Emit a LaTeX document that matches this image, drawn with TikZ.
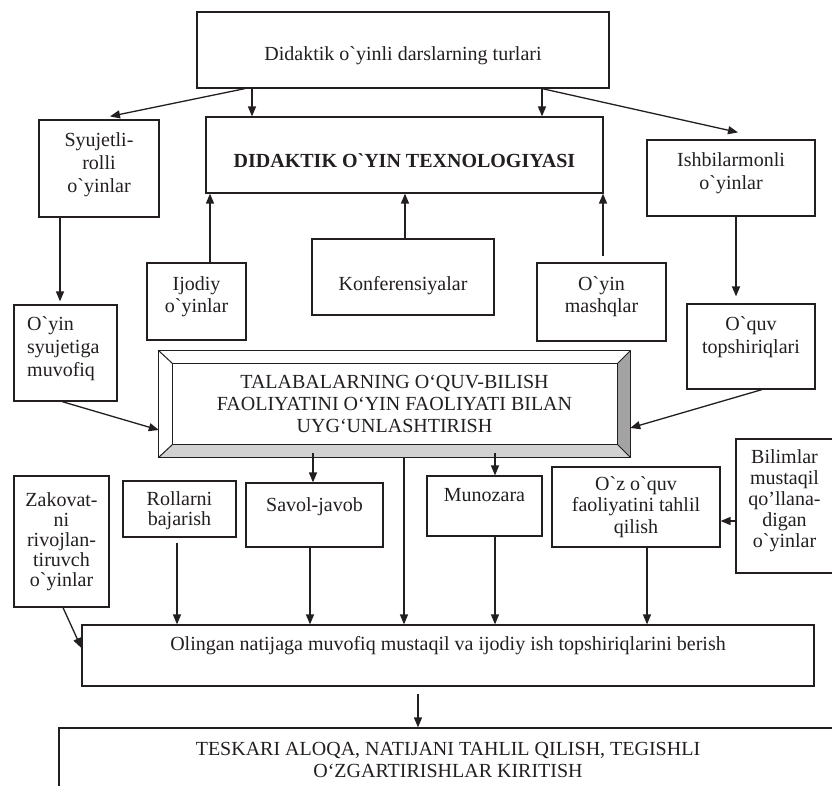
\documentclass[tikz,border=0pt]{standalone}
\usepackage{fontspec}
\setmainfont{Liberation Serif}[Ligatures=TeXOff]
\usetikzlibrary{arrows.meta,calc}
\definecolor{ink}{HTML}{231F20}
\definecolor{bevdark}{HTML}{A3A3A3}
\definecolor{bevlight}{HTML}{D2D2D2}
\begin{document}
\begin{tikzpicture}[x=1pt,y=-1pt,
  box/.style={draw=ink, line width=1.2pt, inner sep=0pt, fill=white},
  txt/.style={inner sep=0pt, anchor=north, align=center, text=ink, font=\fontsize{20}{23}\selectfont},
  arr/.style={draw=ink, line width=1.3pt, -{Triangle[length=10pt,width=8pt]}},
]
\newcommand\fst{\rule{0pt}{15pt}}
\useasboundingbox (0,0) rectangle (832,786);
\clip (0,0) rectangle (832,786);
\fill[white] (0,0) rectangle (832,786);

% boxes
\node[box, minimum width=412pt, minimum height=76pt] (top) at (403,50) {};
\node[txt] (top-t) at (403,45) {\fst Didaktik o`yinli darslarning turlari};

\node[box, minimum width=120pt, minimum height=97pt] (syu) at (99,168.5) {};
\node[txt] (syu-t) at (99,131) {\fst Syujetli-\\rolli\\o`yinlar};

\node[box, minimum width=397pt, minimum height=76pt] (did) at (404.5,155) {};
\node[txt] (did-t) at (404.5,152) {\fst\textbf{DIDAKTIK O`YIN TEXNOLOGIYASI}};

\node[box, minimum width=168pt, minimum height=76pt] (ish) at (731,178) {};
\node[txt] (ish-t) at (731,151) {\fst Ishbilarmonli\\o`yinlar};

\node[box, minimum width=99pt, minimum height=77pt] (ijo) at (196.5,301.5) {};
\node[txt, font=\fontsize{20}{22}\selectfont] (ijo-t) at (196.5,275) {\fst Ijodiy\\o`yinlar};

\node[box, minimum width=182pt, minimum height=76pt] (kon) at (403,277) {};
\node[txt] (kon-t) at (403,275) {\fst Konferensiyalar};

\node[box, minimum width=129pt, minimum height=78pt] (mash) at (601.5,302) {};
\node[txt, font=\fontsize{20}{22}\selectfont] (mash-t) at (601.5,275) {\fst O`yin\\mashqlar};

\node[box, minimum width=128pt, minimum height=85pt] (oq) at (751,346.5) {};
\node[txt] (oq-t) at (751,315) {\fst O`quv\\topshiriqlari};

\node[box, minimum width=103pt, minimum height=96pt] (syj) at (65.5,353) {};
\node[txt, anchor=north west, align=left] (syj-t) at (27,315) {\fst O`yin\\syujetiga\\muvofiq};

% bevel box
\node[inner sep=0pt, minimum width=471pt, minimum height=106pt] (bev) at (394.5,404) {};
\coordinate (bi1) at ($(bev.north west)+(14,13)$);
\coordinate (bi2) at ($(bev.north east)+(-13,13)$);
\coordinate (bi3) at ($(bev.south east)+(-13,-13)$);
\coordinate (bi4) at ($(bev.south west)+(14,-13)$);
\fill[white] (bev.north west) rectangle (bev.south east);
\fill[bevdark] (bev.north east) -- (bev.south east) -- (bi3) -- (bi2) -- cycle;
\fill[bevlight] (bev.south west) -- (bev.south east) -- (bi3) -- (bi4) -- cycle;
\draw[ink, line width=1.2pt] (bev.north west) rectangle (bev.south east);
\draw[ink, line width=1pt] (bi1) rectangle (bi3);
\draw[ink, line width=1pt] (bev.north west) -- (bi1) (bev.north east) -- (bi2) (bev.south east) -- (bi3) (bev.south west) -- (bi4);
\node[txt, font=\fontsize{20}{22}\selectfont] (bev-t) at (394.5,373) {\fst TALABALARNING O‘QUV-BILISH\\FAOLIYATINI O‘YIN FAOLIYATI BILAN\\UYG‘UNLASHTIRISH};

\node[box, minimum width=95pt, minimum height=131pt] (zak) at (61.5,541.5) {};
\node[txt, font=\fontsize{20}{20}\selectfont] (zak-t) at (61.5,491) {\fst Zakovat-\\ni\\rivojlan-\\tiruvch\\o`yinlar};

\node[box, minimum width=113pt, minimum height=56pt] (rol) at (179.5,509) {};
\node[txt, font=\fontsize{20}{20}\selectfont] (rol-t) at (179.5,490) {\fst Rollarni\\bajarish};

\node[box, minimum width=137pt, minimum height=64pt] (sav) at (314.5,515) {};
\node[txt] (sav-t) at (314.5,496) {\fst Savol-javob};

\node[box, minimum width=115pt, minimum height=60pt] (mun) at (484.5,506) {};
\node[txt] (mun-t) at (484.5,486) {\fst Munozara};

\node[box, minimum width=168pt, minimum height=80pt] (oz) at (636,507) {};
\node[txt, font=\fontsize{20}{21.5}\selectfont] (oz-t) at (636,475) {\fst O`z o`quv\\faoliyatini tahlil\\qilish};

\node[box, minimum width=97pt, minimum height=134pt] (bil) at (784.5,506) {};
\node[txt, font=\fontsize{20}{21}\selectfont] (bil-t) at (784.5,448) {\fst Bilimlar\\mustaqil\\qo’llana-\\digan\\o`yinlar};

\node[box, minimum width=732pt, minimum height=61pt] (oling) at (448,655.5) {};
\node[txt] (oling-t) at (448,635) {\fst Olingan natijaga muvofiq mustaqil va ijodiy ish topshiriqlarini berish};

\node[box, minimum width=778pt, minimum height=72pt] (tesk) at (448,764) {};
\node[txt, font=\fontsize{20}{22}\selectfont] (tesk-t) at (448,740) {\fst TESKARI ALOQA, NATIJANI TAHLIL QILISH, TEGISHLI\\O‘ZGARTIRISHLAR KIRITISH};

% connectors
\draw[arr] ($(top.south)+(-158,0)$) -- ($(syu.north)+(11,-3)$);
\coordinate (s2) at ($(top.south)+(-151,0)$);
\draw[arr] (s2) -- (s2 |- did.north);
\coordinate (s3) at ($(top.south)+(139,0)$);
\draw[arr] (s3) -- (s3 |- did.north);
\draw[arr] (s3) -- ($(ish.north)+(7,-7)$);
\coordinate (u1) at ($(ijo.north)+(13.5,0)$);
\draw[arr] (u1) -- (u1 |- did.south);
\coordinate (u2) at ($(kon.north)+(2,0)$);
\draw[arr] (u2) -- (u2 |- did.south);
\coordinate (u3) at ($(mash.north)+(1.5,-6)$);
\draw[arr] (u3) -- (u3 |- did.south);
\coordinate (d1) at ($(syu.south)+(-39,0)$);
\draw[arr] (d1) -- ($(d1 |- syj.north)+(0,-3)$);
\coordinate (d2) at ($(ish.south)+(5,0)$);
\draw[arr] (d2) -- ($(d2 |- oq.north)+(0,-7)$);
\draw[arr] ($(syj.south)+(-3.5,0)$) -- ($(bev.west)+(0,26)$);
\draw[arr] ($(oq.south)+(11,0)$) -- ($(bev.east)+(0,24)$);
\coordinate (b1) at ($(bev.south)+(-81.5,-4)$);
\draw[arr] (b1) -- (b1 |- sav.north);
\coordinate (b2) at ($(bev.south)+(9.5,0)$);
\draw[arr] (b2) -- (b2 |- oling.north);
\coordinate (b3) at ($(bev.south)+(100.5,-4)$);
\draw[arr] (b3) -- (b3 |- mun.north);
\draw[arr] ($(bil.west)+(0,15)$) -- ($(oz.east)+(0,14)$);
\draw[arr] ($(zak.south)+(1.5,0)$) -- ($(oling.west)+(0,-7.5)$);
\coordinate (r1) at ($(rol.south)+(-2.5,5)$);
\draw[arr] (r1) -- (r1 |- oling.north);
\coordinate (r2) at ($(sav.south)+(-4.5,0)$);
\draw[arr] (r2) -- (r2 |- oling.north);
\coordinate (r3) at ($(mun.south)+(10.5,0)$);
\draw[arr] (r3) -- (r3 |- oling.north);
\coordinate (r4) at ($(oz.south)+(11,0)$);
\draw[arr] (r4) -- (r4 |- oling.north);
\coordinate (r5) at ($(oling.south)+(-30,7)$);
\draw[arr] (r5) -- (r5 |- tesk.north);
\end{tikzpicture}
\end{document}
